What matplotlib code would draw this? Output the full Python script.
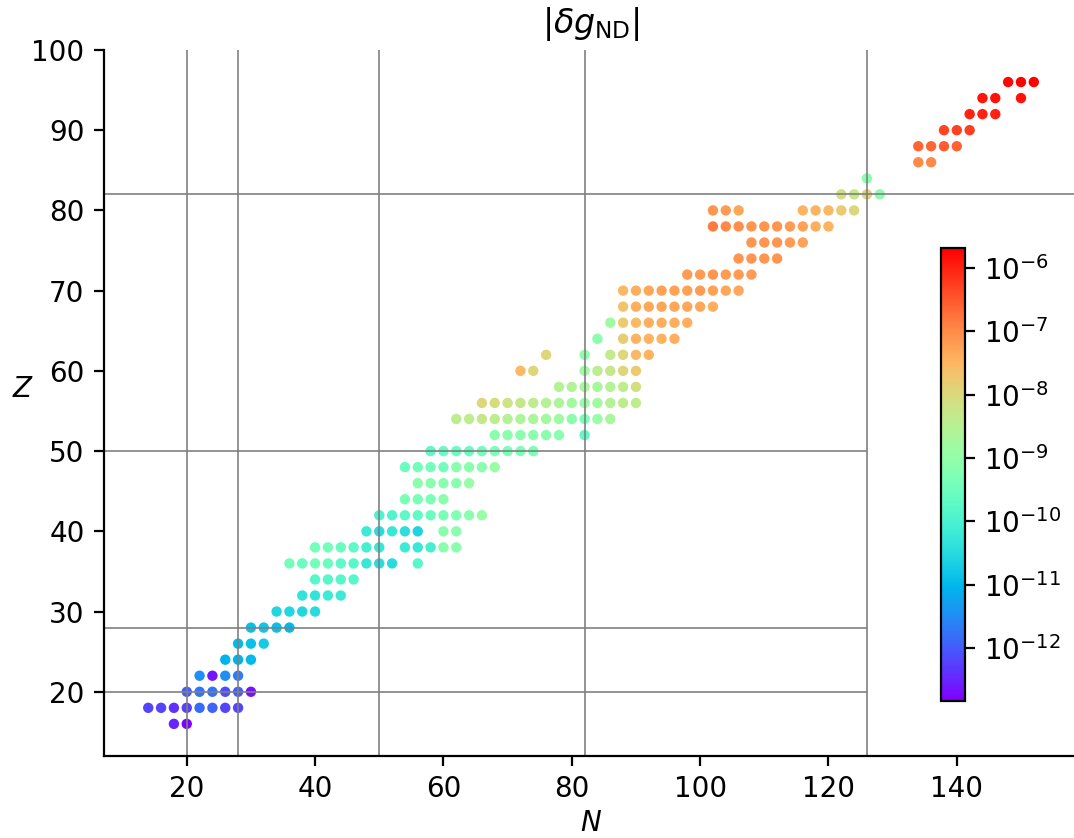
import numpy as np
import matplotlib
matplotlib.use('Agg')
import matplotlib.pyplot as plt
from matplotlib.colors import LogNorm
from matplotlib.ticker import NullLocator

# even-even nuclei: neutron number N, proton number Z, log10 |dg_ND|
N = [18, 20,
     14, 16, 18, 20, 22, 24, 26, 28,
     20, 22, 24, 26, 28, 30,
     22, 24, 26, 28,
     26, 28, 30,
     28, 30, 32,
     30, 32, 34, 36,
     34, 36, 38, 40,
     38, 40, 42, 44,
     40, 42, 44, 46,
     36, 38, 40, 42, 44, 46, 48, 50, 52, 56,
     40, 42, 44, 46, 48, 50, 54, 56, 58, 60, 62,
     48, 50, 52, 54, 56, 60, 62,
     50, 52, 54, 56, 58, 60, 62, 64, 66,
     54, 56, 58, 60,
     56, 58, 60, 62, 64,
     54, 56, 58, 60, 62, 64, 66, 68,
     58, 60, 62, 64, 66, 68, 70, 72, 74,
     68, 70, 72, 74, 76, 78, 82,
     62, 64, 66, 68, 70, 72, 74, 76, 78, 80, 82, 84, 86,
     66, 68, 70, 72, 74, 76, 78, 80, 82, 84, 86, 88, 90,
     78, 80, 82, 84, 86, 88, 90,
     72, 74, 82, 84, 86, 88, 90,
     76, 82, 86, 88, 90, 92,
     84, 88, 90, 92, 94, 96,
     86, 88, 90, 92, 94, 96, 98,
     88, 90, 92, 94, 96, 98, 100, 102,
     88, 90, 92, 94, 96, 98, 100, 102, 104, 106,
     98, 100, 102, 104, 106, 108,
     106, 108, 110, 112,
     108, 110, 112, 114, 116,
     102, 104, 106, 108, 110, 112, 114, 116, 118, 120,
     102, 104, 106, 116, 118, 120, 122, 124,
     122, 124, 126, 128,
     126,
     134, 136,
     134, 136, 138, 140,
     138, 140, 142,
     142, 144, 146,
     144, 146, 150,
     148, 150, 152]

Z = [16] * 2 + [18] * 8 + [20] * 6 + [22] * 4 + [24] * 3 + [26] * 3 + [28] * 4 \
    + [30] * 4 + [32] * 4 + [34] * 4 + [36] * 10 + [38] * 11 + [40] * 7 \
    + [42] * 9 + [44] * 4 + [46] * 5 + [48] * 8 + [50] * 9 + [52] * 7 \
    + [54] * 13 + [56] * 13 + [58] * 7 + [60] * 7 + [62] * 6 + [64] * 6 \
    + [66] * 7 + [68] * 8 + [70] * 10 + [72] * 6 + [74] * 4 + [76] * 5 \
    + [78] * 10 + [80] * 8 + [82] * 4 + [84] * 1 + [86] * 2 + [88] * 4 \
    + [90] * 3 + [92] * 3 + [94] * 3 + [96] * 3

log_dg = [-12.48, -12.84,
          -12.20, -12.20, -12.41, -12.27, -11.84, -11.91, -12.20, -12.20,
          -11.98, -11.77, -11.77, -12.12, -11.98, -12.70,
          -11.48, -12.63, -11.48, -11.69,
          -11.05, -11.05, -10.98,
          -10.98, -10.91, -10.76,
          -10.91, -10.84, -10.91, -10.98,
          -10.55, -10.55, -10.55, -10.48,
          -10.33, -10.33, -10.19, -10.19,
          -9.83, -9.83, -9.83, -9.83,
          -9.40, -9.55, -9.40, -9.55, -9.76, -9.83, -10.26, -10.48, -10.48, -9.83,
          -9.40, -9.40, -9.55, -9.76, -10.05, -10.26, -10.19, -10.26, -10.05, -9.12, -9.12,
          -10.19, -10.48, -10.26, -10.41, -10.62, -9.12, -9.12,
          -9.98, -9.90, -9.76, -9.69, -9.55, -9.33, -9.26, -9.12, -8.90,
          -9.33, -9.33, -9.33, -9.12,
          -9.12, -9.12, -9.12, -9.12, -8.90,
          -9.55, -9.40, -9.40, -9.40, -9.12, -9.12, -9.12, -8.90,
          -9.76, -9.62, -9.62, -9.62, -9.47, -9.33, -9.33, -9.33, -9.33,
          -9.12, -9.12, -9.12, -9.12, -9.12, -9.12, -9.76,
          -8.40, -8.40, -8.26, -8.40, -8.54, -8.62, -8.62, -8.76, -8.83, -9.12, -9.33, -8.90, -8.69,
          -7.97, -8.04, -8.19, -8.26, -8.40, -8.54, -8.62, -8.76, -8.90, -8.76, -8.54, -8.40, -8.40,
          -8.54, -8.54, -8.69, -8.69, -8.54, -8.40, -8.11,
          -7.54, -7.97, -8.83, -8.40, -8.26, -7.97, -7.76,
          -7.97, -9.05, -8.33, -7.97, -7.54, -7.47,
          -9.12, -7.83, -7.47, -7.47, -7.47, -7.40,
          -8.83, -7.76, -7.54, -7.40, -7.40, -7.40, -7.40,
          -7.68, -7.40, -7.33, -7.33, -7.33, -7.33, -7.33, -7.40,
          -7.54, -7.40, -7.33, -7.26, -7.26, -7.26, -7.18, -7.26, -7.33, -7.33,
          -7.18, -7.18, -7.11, -7.18, -7.18, -7.18,
          -7.11, -7.11, -7.11, -7.11,
          -7.11, -7.11, -7.11, -7.18, -7.26,
          -6.83, -6.97, -7.04, -7.11, -7.11, -7.11, -7.18, -7.26, -7.40, -7.47,
          -7.11, -7.18, -7.33, -7.47, -7.47, -7.54, -7.76, -7.97,
          -8.11, -8.26, -7.90, -9.12,
          -9.12,
          -6.97, -6.97,
          -6.62, -6.62, -6.54, -6.58,
          -6.30, -6.28, -6.25,
          -6.00, -6.00, -6.00,
          -5.88, -5.85, -5.85,
          -5.74, -5.68, -5.68]

magic_N = [20, 28, 50, 82, 126]
magic_Z = [20, 28, 50]
magic_Z_full = [82]

plt.rcParams['font.size'] = 10

dg = 10.0 ** np.array(log_dg)

fig = plt.figure(figsize=(5.37, 4.19), dpi=200)
# axes run slightly past the right edge of the figure (tight crop in the original)
ax = fig.add_axes([0.0968, 0.0979, 0.907, 0.8425])

sc = ax.scatter(N, Z, c=dg, s=14, linewidths=0, cmap='rainbow',
                norm=LogNorm(vmin=dg.min(), vmax=dg.max()))
xlim = ax.get_xlim()
ylim = ax.get_ylim()

# magic numbers
for n in magic_N:
    ax.axvline(n, color='gray', lw=0.6)
ax.hlines(magic_Z, xlim[0] - 10, 126, color='gray', lw=0.6)
for z in magic_Z_full:
    ax.axhline(z, color='gray', lw=0.6)
ax.set_xlim(xlim)
ax.set_ylim(ylim)

ax.spines['top'].set_visible(False)
ax.spines['right'].set_visible(False)
ax.set_xlabel('$N$', labelpad=2)
ax.set_ylabel('$Z$', rotation=0, labelpad=3)
ax.set_title(r'$|\delta g_{\rm ND}|$')

cax = fig.add_axes([0.876, 0.1635, 0.0223, 0.5406])
cb = fig.colorbar(sc, cax=cax)
cb.ax.yaxis.set_minor_locator(NullLocator())

fig.savefig('out.png', dpi=200)
